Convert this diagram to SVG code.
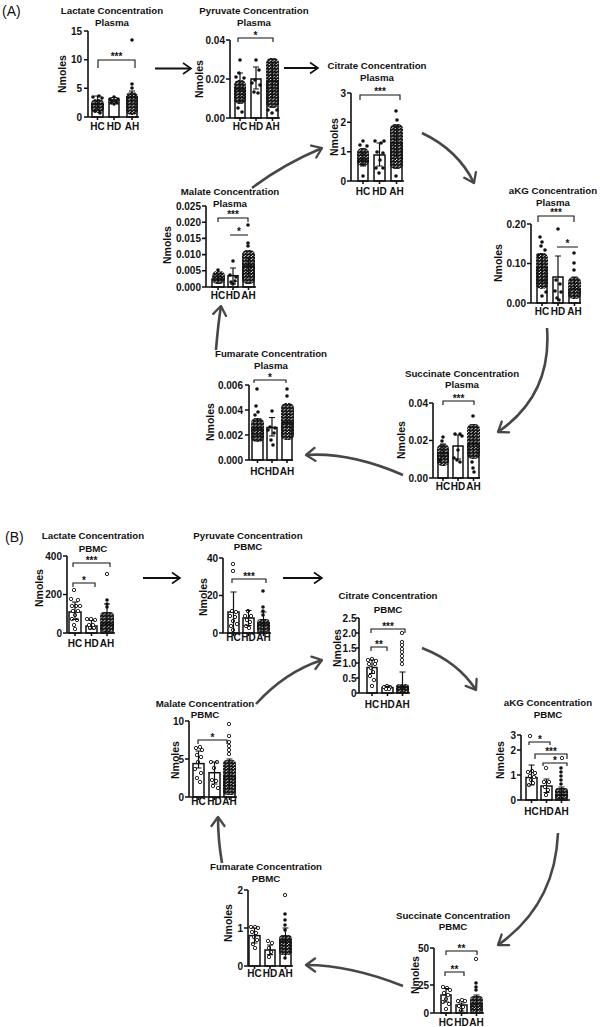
<svg xmlns="http://www.w3.org/2000/svg" width="600" height="1027" viewBox="0 0 600 1027">
<style>
text{font-family:"Liberation Sans",Arial,sans-serif;font-weight:bold;fill:#111}
.t{font-size:9.7px;text-anchor:middle}
.k{font-size:10px;text-anchor:end}
.x{font-size:10px;text-anchor:middle}
.y{font-size:10.5px;text-anchor:middle}
.s{font-size:10px;text-anchor:middle}
.pl{font-size:14px;font-weight:normal}
.ax{stroke:#111;stroke-width:1.6;fill:none}
.bar{fill:#fff;stroke:#111;stroke-width:1.5}
.cl{fill:url(#dp)}
.eb{stroke:#111;stroke-width:1.2;fill:none}
.br{stroke:#111;stroke-width:1.1;fill:none}
.sa{stroke:#111;stroke-width:1.8;fill:none}
.ca{stroke:#474747;stroke-width:2.6;fill:none}
</style>
<defs>
<pattern id="dp" patternUnits="userSpaceOnUse" width="3.6" height="3.2">
<circle cx="0.9" cy="0.8" r="1.6" fill="#111"/>
<circle cx="2.7" cy="2.4" r="1.6" fill="#111"/>
</pattern>
<circle id="f" r="1.8" fill="#111"/>
<circle id="o" r="1.7" fill="#fff" stroke="#111" stroke-width="0.9"/>
<marker id="ms" markerUnits="userSpaceOnUse" markerWidth="12" markerHeight="14" refX="9" refY="7" orient="auto">
<path d="M1,1.5 L9,7 L1,12.5" fill="none" stroke="#111" stroke-width="1.6"/>
</marker>
<marker id="mc" markerUnits="userSpaceOnUse" markerWidth="14" markerHeight="16" refX="11" refY="8" orient="auto">
<path d="M2,1.5 L11,8 L2,14.5" fill="none" stroke="#474747" stroke-width="2.3" stroke-linecap="round" stroke-linejoin="round"/>
</marker>
</defs>
<rect width="600" height="1027" fill="#fff"/>

<text class="pl" x="2" y="16">(A)</text>
<text class="pl" x="5" y="542">(B)</text>

<g id="connectors">
<path class="sa" d="M155,68.5H191" marker-end="url(#ms)"/>
<path class="sa" d="M284,68H318" marker-end="url(#ms)"/>
<path class="ca" d="M252,188Q282,165 322,148" marker-end="url(#mc)"/>
<path class="ca" d="M422,133Q458,150 474,183" marker-end="url(#mc)"/>
<path class="ca" d="M547,328Q552,395 498,432" marker-end="url(#mc)"/>
<path class="ca" d="M403,475Q350,452 306,455" marker-end="url(#mc)"/>
<path class="ca" d="M216,350Q218,325 221,306" marker-end="url(#mc)"/>
<path class="sa" d="M143,578H180" marker-end="url(#ms)"/>
<path class="sa" d="M283,578H322" marker-end="url(#ms)"/>
<path class="ca" d="M256,704Q285,672 322,660" marker-end="url(#mc)"/>
<path class="ca" d="M422,648Q458,662 476,690" marker-end="url(#mc)"/>
<path class="ca" d="M558,833Q555,905 498,945" marker-end="url(#mc)"/>
<path class="ca" d="M403,986Q350,965 306,965" marker-end="url(#mc)"/>
<path class="ca" d="M222,863Q218,840 218,817" marker-end="url(#mc)"/>
</g>

<!-- A1 Lactate Plasma -->
<g id="lactate-plasma">
<text class="t" x="112" y="14">Lactate Concentration</text>
<text class="t" x="112" y="26">Plasma</text>
<text class="y" transform="translate(66,74) rotate(-90)">Nmoles</text>
<text class="k" x="82" y="34.5">15</text><text class="k" x="82" y="63.2">10</text><text class="k" x="82" y="91.8">5</text><text class="k" x="82" y="120.5">0</text>
<rect class="bar" x="92" y="104" width="11" height="13"/>
<rect class="bar" x="109" y="100" width="10" height="17"/>
<rect class="bar" x="127" y="97" width="10" height="20"/>
<rect class="cl" x="91" y="99" width="13" height="14" rx="5"/>
<rect class="cl" x="126" y="92" width="12" height="23" rx="5"/>
<use href="#f" x="93" y="97"/><use href="#f" x="99" y="96"/><use href="#f" x="102" y="98"/><use href="#f" x="95" y="111"/><use href="#f" x="100" y="113"/>
<use href="#f" x="110" y="99"/><use href="#f" x="114" y="97"/><use href="#f" x="118" y="99"/><use href="#f" x="111" y="103"/><use href="#f" x="117" y="103"/><use href="#f" x="114" y="104"/><use href="#f" x="112" y="101"/><use href="#f" x="116" y="101"/>
<use href="#f" x="132" y="84"/><use href="#f" x="132" y="88"/><use href="#f" x="132" y="40"/>
<path class="eb" d="M97.5,110V96M94.5,110h6M94.5,96h6M114,102V97.5M111,102h6M111,97.5h6M132,103V91M129,91h6"/>
<path class="ax" d="M88,31V117H139M84,31H88M84,59.7H88M84,88.3H88M84,117H88M97.5,117v3M114,117v3M132,117v3"/>
<path class="br" d="M98,68V60H135V68"/>
<text class="s" x="116.5" y="60">***</text>
<text class="x" x="97.5" y="130">HC</text><text class="x" x="114" y="130">HD</text><text class="x" x="132" y="130">AH</text>
</g>

<!-- A2 Pyruvate Plasma -->
<g id="pyruvate-plasma">
<text class="t" x="254" y="14">Pyruvate Concentration</text>
<text class="t" x="254" y="26">Plasma</text>
<text class="y" transform="translate(203,79) rotate(-90)">Nmoles</text>
<text class="k" x="225" y="43.5">0.04</text><text class="k" x="225" y="82.5">0.02</text><text class="k" x="225" y="121.5">0.00</text>
<rect class="bar" x="235" y="89" width="10" height="29"/>
<rect class="bar" x="251" y="79" width="10" height="39"/>
<rect class="bar" x="267" y="81" width="11" height="37"/>
<rect class="cl" x="234" y="80" width="12" height="24" rx="5"/>
<rect class="cl" x="266" y="58" width="13" height="50" rx="5"/>
<use href="#f" x="240" y="60"/><use href="#f" x="239" y="73"/><use href="#f" x="236" y="77"/><use href="#f" x="244" y="78"/><use href="#f" x="238" y="108"/><use href="#f" x="242" y="112"/>
<use href="#f" x="256" y="60"/><use href="#f" x="252" y="83"/><use href="#f" x="260" y="85"/><use href="#f" x="254" y="92"/><use href="#f" x="258" y="93"/><use href="#f" x="255" y="80"/><use href="#f" x="259" y="70"/>
<use href="#f" x="272" y="113"/><use href="#f" x="268" y="110"/><use href="#f" x="277" y="110"/>
<path class="eb" d="M240,102V73M237,102h6M237,73h6M256,89V67M253,89h6M253,67h6M272.5,98V63M269.5,63h6"/>
<path class="ax" d="M230,40V118H280M226,40H230M226,79H230M226,118H230M240,118v3M256,118v3M272.5,118v3"/>
<path class="br" d="M238,42V38H273V42"/>
<text class="s" x="255.5" y="38.5">*</text>
<text class="x" x="240" y="130">HC</text><text class="x" x="256" y="130">HD</text><text class="x" x="272.5" y="130">AH</text>
</g>

<!-- A3 Citrate Plasma -->
<g id="citrate-plasma">
<text class="t" x="377" y="69">Citrate Concentration</text>
<text class="t" x="377" y="80.5">Plasma</text>
<text class="y" transform="translate(338,137) rotate(-90)">Nmoles</text>
<text class="k" x="346" y="96.5">3</text><text class="k" x="346" y="125.8">2</text><text class="k" x="346" y="155.2">1</text><text class="k" x="346" y="184.5">0</text>
<rect class="bar" x="358" y="160" width="10" height="21"/>
<rect class="bar" x="374" y="155" width="11" height="26"/>
<rect class="bar" x="391" y="143" width="11" height="38"/>
<rect class="cl" x="357" y="148" width="12" height="18" rx="5"/>
<rect class="cl" x="390" y="124" width="13" height="45" rx="5"/>
<use href="#f" x="363" y="141"/><use href="#f" x="360" y="145"/><use href="#f" x="367" y="146"/><use href="#f" x="363" y="176"/>
<use href="#f" x="375" y="141"/><use href="#f" x="381" y="143"/><use href="#f" x="384" y="141"/><use href="#f" x="377" y="152"/><use href="#f" x="383" y="153"/><use href="#f" x="380" y="160"/><use href="#f" x="376" y="168"/><use href="#f" x="383" y="168"/><use href="#f" x="379" y="173"/>
<use href="#f" x="396" y="111"/><use href="#f" x="397" y="120"/><use href="#f" x="396" y="176"/>
<path class="eb" d="M363,166V153M360,166h6M360,153h6M379.5,166V143M376.5,166h6M376.5,143h6M396.5,157V125M393.5,125h6"/>
<path class="ax" d="M351,93V181H404M347,93H351M347,122.3H351M347,151.7H351M347,181H351M363,181v3M379.5,181v3M396.5,181v3"/>
<path class="br" d="M360,100V95H400V100"/>
<text class="s" x="380" y="95">***</text>
<text class="x" x="363" y="195">HC</text><text class="x" x="379.5" y="195">HD</text><text class="x" x="396.5" y="195">AH</text>
</g>

<!-- A4 aKG Plasma -->
<g id="akg-plasma">
<text class="t" x="553" y="194">aKG Concentration</text>
<text class="t" x="553" y="205.5">Plasma</text>
<text class="y" transform="translate(502,263) rotate(-90)">Nmoles</text>
<text class="k" x="526" y="227.5">0.20</text><text class="k" x="526" y="267">0.10</text><text class="k" x="526" y="306.5">0.00</text>
<rect class="bar" x="537" y="267.5" width="10" height="35.5"/>
<rect class="bar" x="553" y="277" width="10" height="26"/>
<rect class="bar" x="569" y="289" width="11" height="14"/>
<rect class="cl" x="536" y="253" width="12" height="36" rx="5"/>
<rect class="cl" x="568" y="277" width="13" height="22" rx="5"/>
<use href="#f" x="541" y="246"/><use href="#f" x="542" y="242"/><use href="#f" x="540" y="237"/><use href="#f" x="545" y="250"/><use href="#f" x="538" y="255"/><use href="#f" x="546" y="292"/><use href="#f" x="542" y="296"/>
<use href="#f" x="558" y="229"/><use href="#f" x="556" y="280"/><use href="#f" x="560" y="284"/><use href="#f" x="555" y="291"/><use href="#f" x="561" y="292"/><use href="#f" x="557" y="298"/><use href="#f" x="559" y="300"/>
<use href="#f" x="574" y="253"/><use href="#f" x="574" y="263"/><use href="#f" x="574" y="270"/>
<path class="eb" d="M542,281V254M539,281h6M539,254h6M558,301V256M555,256h6M574.5,299V277M571.5,277h6"/>
<path class="ax" d="M531,224V303H581M527,224H531M527,263.5H531M527,303H531M542,303v3M558,303v3M574.5,303v3"/>
<path class="br" d="M538,222V216H574V222M557,247H578"/>
<text class="s" x="556" y="216">***</text>
<text class="s" x="567.5" y="247">*</text>
<text class="x" x="542" y="315">HC</text><text class="x" x="558" y="315">HD</text><text class="x" x="574.5" y="315">AH</text>
</g>

<!-- A5 Succinate Plasma -->
<g id="succinate-plasma">
<text class="t" x="462" y="376.5">Succinate Concentration</text>
<text class="t" x="462" y="388">Plasma</text>
<text class="y" transform="translate(405,440) rotate(-90)">Nmoles</text>
<text class="k" x="428" y="406.5">0.04</text><text class="k" x="428" y="444">0.02</text><text class="k" x="428" y="481.5">0.00</text>
<rect class="bar" x="438" y="453" width="10" height="25"/>
<rect class="bar" x="453" y="446" width="10" height="32"/>
<rect class="bar" x="468" y="444" width="11" height="34"/>
<rect class="cl" x="437" y="444" width="12" height="22" rx="5"/>
<rect class="cl" x="467" y="424" width="13" height="35" rx="5"/>
<use href="#f" x="443" y="437"/><use href="#f" x="442" y="441"/><use href="#f" x="440" y="460"/>
<use href="#f" x="455" y="434"/><use href="#f" x="460" y="434"/><use href="#f" x="462" y="436"/><use href="#f" x="458" y="450"/><use href="#f" x="454" y="458"/><use href="#f" x="460" y="462"/><use href="#f" x="457" y="460"/>
<use href="#f" x="473" y="416"/><use href="#f" x="472" y="462"/><use href="#f" x="473" y="468"/><use href="#f" x="474" y="472"/>
<path class="eb" d="M443,457V444M440,457h6M440,444h6M458,459V435M455,459h6M455,435h6M473.5,455.5V427M470.5,427h6"/>
<path class="ax" d="M433,403V478H480M429,403H433M429,440.5H433M429,478H433M443,478v3M458,478v3M473.5,478v3"/>
<path class="br" d="M443,405V401H474V405"/>
<text class="s" x="458.5" y="401.5">***</text>
<text class="x" x="443" y="490">HC</text><text class="x" x="458" y="490">HD</text><text class="x" x="473.5" y="490">AH</text>
</g>

<!-- A6 Fumarate Plasma -->
<g id="fumarate-plasma">
<text class="t" x="271" y="357">Fumarate Concentration</text>
<text class="t" x="271" y="368.5">Plasma</text>
<text class="y" transform="translate(214,422) rotate(-90)">Nmoles</text>
<text class="k" x="243" y="388.5">0.006</text><text class="k" x="243" y="413.5">0.004</text><text class="k" x="243" y="438.5">0.002</text><text class="k" x="243" y="463.5">0.000</text>
<rect class="bar" x="252" y="429" width="11" height="31"/>
<rect class="bar" x="267" y="427.5" width="10" height="32.5"/>
<rect class="bar" x="282" y="422.5" width="10" height="37.5"/>
<rect class="cl" x="251" y="418" width="13" height="24" rx="5"/>
<rect class="cl" x="281" y="403" width="13" height="37" rx="5"/>
<use href="#f" x="257" y="389"/><use href="#f" x="256" y="406"/><use href="#f" x="258" y="412"/><use href="#f" x="255" y="415"/>
<use href="#f" x="272" y="411"/><use href="#f" x="270" y="427"/><use href="#f" x="275" y="428"/><use href="#f" x="268" y="430"/><use href="#f" x="274" y="433"/><use href="#f" x="271" y="440"/><use href="#f" x="273" y="445"/>
<use href="#f" x="287" y="389"/><use href="#f" x="287" y="396"/>
<path class="eb" d="M257.5,435V419M254.5,435h6M254.5,419h6M272,436V417.5M269,436h6M269,417.5h6M287,427.5V414M284,414h6"/>
<path class="ax" d="M249,385V460H293M245,385H249M245,410H249M245,435H249M245,460H249M257.5,460v3M272,460v3M287,460v3"/>
<path class="br" d="M254,383V380H286V383"/>
<text class="s" x="270" y="380.5">*</text>
<text class="x" x="257.5" y="474.5">HC</text><text class="x" x="272" y="474.5">HD</text><text class="x" x="287" y="474.5">AH</text>
</g>

<!-- A7 Malate Plasma -->
<g id="malate-plasma">
<text class="t" x="230" y="195">Malate Concentration</text>
<text class="t" x="230" y="207">Plasma</text>
<text class="y" transform="translate(171,245) rotate(-90)">Nmoles</text>
<text class="k" x="201" y="209.5">0.025</text><text class="k" x="201" y="225.7">0.020</text><text class="k" x="201" y="241.9">0.015</text><text class="k" x="201" y="258.1">0.010</text><text class="k" x="201" y="274.3">0.005</text><text class="k" x="201" y="290.5">0.000</text>
<rect class="bar" x="212" y="279" width="12" height="8"/>
<rect class="bar" x="228" y="275.7" width="10" height="11.3"/>
<rect class="bar" x="243" y="266" width="11" height="21"/>
<rect class="cl" x="212" y="271" width="13" height="13" rx="5"/>
<rect class="cl" x="242" y="250" width="13" height="34" rx="5"/>
<use href="#f" x="218" y="270"/>
<use href="#f" x="233" y="261"/><use href="#f" x="230" y="275"/><use href="#f" x="236" y="277"/><use href="#f" x="231" y="282"/><use href="#f" x="235" y="281"/><use href="#f" x="233" y="284"/>
<use href="#f" x="248" y="225"/><use href="#f" x="248" y="243"/><use href="#f" x="248" y="246"/>
<path class="eb" d="M218,282V275M215,275h6M233,284V268M230,284h6M230,268h6M248.5,276V258M245.5,258h6"/>
<path class="ax" d="M206,206V287H256M202,206H206M202,222.2H206M202,238.4H206M202,254.6H206M202,270.8H206M202,287H206M218,287v3M233,287v3M248.5,287v3"/>
<path class="br" d="M218,222V218H248V222M230,235H248"/>
<text class="s" x="233" y="218">***</text>
<text class="s" x="239" y="235">*</text>
<text class="x" x="218" y="298.5">HC</text><text class="x" x="233" y="298.5">HD</text><text class="x" x="248.5" y="298.5">AH</text>
</g>

<!-- B1 Lactate PBMC -->
<g id="lactate-pbmc">
<text class="t" x="93" y="538.5">Lactate Concentration</text>
<text class="t" x="93" y="551.8">PBMC</text>
<text class="y" transform="translate(43,588) rotate(-90)">Nmoles</text>
<text class="k" x="62" y="559.5">400</text><text class="k" x="62" y="598">200</text><text class="k" x="62" y="636.5">0</text>
<rect class="bar" x="69" y="612" width="12" height="21"/>
<rect class="bar" x="86" y="626" width="11" height="7"/>
<rect class="bar" x="101" y="624" width="12" height="9"/>
<rect class="cl" x="100" y="612" width="14" height="20" rx="4"/>
<use href="#o" x="74" y="590"/><use href="#o" x="71" y="599"/><use href="#o" x="78" y="600"/><use href="#o" x="72" y="606"/><use href="#o" x="76" y="606"/><use href="#o" x="80" y="606"/><use href="#o" x="73" y="611"/><use href="#o" x="78" y="611"/><use href="#o" x="75" y="615"/><use href="#o" x="72" y="619"/><use href="#o" x="77" y="620"/><use href="#o" x="74" y="625"/><use href="#o" x="75" y="629"/>
<use href="#o" x="87" y="619"/><use href="#o" x="91" y="619"/><use href="#o" x="95" y="620"/><use href="#o" x="89" y="625"/><use href="#o" x="93" y="625"/><use href="#o" x="90" y="628"/><use href="#o" x="94" y="628"/>
<use href="#o" x="107" y="574"/><use href="#f" x="107" y="600"/><use href="#f" x="107" y="604"/><use href="#f" x="107" y="607"/>
<path class="eb" d="M75,619.5V602M72,619.5h6M72,602h6M91.5,629V620.5M88.5,629h6M88.5,620.5h6M107,633V604M104,604h6"/>
<path class="ax" d="M67,556V633H115M63,556H67M63,594.5H67M63,633H67M75,633v3M91.5,633v3M107,633v3"/>
<path class="br" d="M73,567V563H110V567M73,587V583H95V587"/>
<text class="s" x="91.5" y="563.5">***</text>
<text class="s" x="84" y="583.5">*</text>
<text class="x" x="75" y="646.8">HC</text><text class="x" x="91.5" y="646.8">HD</text><text class="x" x="107" y="646.8">AH</text>
</g>

<!-- B2 Pyruvate PBMC -->
<g id="pyruvate-pbmc">
<text class="t" x="248" y="538.5">Pyruvate Concentration</text>
<text class="t" x="248" y="549.5">PBMC</text>
<text class="y" transform="translate(207,597) rotate(-90)">Nmoles</text>
<text class="k" x="218" y="561.5">40</text><text class="k" x="218" y="599">20</text><text class="k" x="218" y="636.5">0</text>
<rect class="bar" x="228" y="612" width="11" height="21"/>
<rect class="bar" x="243" y="618" width="11" height="15"/>
<rect class="bar" x="258" y="624" width="11" height="9"/>
<rect class="cl" x="257" y="619" width="13" height="13" rx="4"/>
<use href="#o" x="233" y="564"/><use href="#o" x="233" y="571"/><use href="#o" x="232" y="611"/><use href="#o" x="236" y="612"/><use href="#o" x="230" y="616"/><use href="#o" x="235" y="617"/><use href="#o" x="233" y="621"/><use href="#o" x="237" y="624"/><use href="#o" x="231" y="626"/><use href="#o" x="233" y="630"/>
<use href="#o" x="248" y="611"/><use href="#o" x="245" y="616"/><use href="#o" x="251" y="616"/><use href="#o" x="247" y="620"/><use href="#o" x="250" y="622"/><use href="#o" x="246" y="626"/><use href="#o" x="249" y="628"/>
<use href="#f" x="263" y="591"/><use href="#f" x="263" y="607"/><use href="#f" x="263" y="611"/><use href="#f" x="263" y="615"/>
<path class="eb" d="M233.5,633V592M230.5,592h6M248.5,625.5V610.5M245.5,625.5h6M245.5,610.5h6M263.5,633V612M260.5,612h6"/>
<path class="ax" d="M223,558V633H271M219,558H223M219,595.5H223M219,633H223M233.5,633v3M248.5,633v3M263.5,633v3"/>
<path class="br" d="M232,583V579H266V583"/>
<text class="s" x="249" y="579.5">***</text>
<text class="x" x="233.5" y="640.8">HC</text><text class="x" x="248.5" y="640.8">HD</text><text class="x" x="263.5" y="640.8">AH</text>
</g>

<!-- B3 Citrate PBMC -->
<g id="citrate-pbmc">
<text class="t" x="388" y="599">Citrate Concentration</text>
<text class="t" x="388" y="612.5">PBMC</text>
<text class="y" transform="translate(341,648) rotate(-90)">Nmoles</text>
<text class="k" x="356.5" y="621.5">2.5</text><text class="k" x="356.5" y="636.5">2.0</text><text class="k" x="356.5" y="651.5">1.5</text><text class="k" x="356.5" y="666.5">1.0</text><text class="k" x="356.5" y="681.5">0.5</text><text class="k" x="356.5" y="696.5">0</text>
<rect class="bar" x="367" y="667.5" width="10" height="25.5"/>
<rect class="bar" x="382" y="687.6" width="11" height="5.4"/>
<rect class="bar" x="397" y="687.6" width="11" height="5.4"/>
<rect class="cl" x="396" y="684" width="13" height="9" rx="3"/>
<use href="#o" x="368" y="660"/><use href="#o" x="372" y="659"/><use href="#o" x="376" y="661"/><use href="#o" x="369" y="664"/><use href="#o" x="375" y="664"/><use href="#o" x="371" y="668"/><use href="#o" x="373" y="672"/><use href="#o" x="370" y="676"/><use href="#o" x="374" y="680"/><use href="#o" x="372" y="686"/>
<use href="#o" x="384" y="687"/><use href="#o" x="387" y="686"/><use href="#o" x="390" y="687"/><use href="#o" x="386" y="689"/><use href="#o" x="389" y="689"/>
<use href="#o" x="402" y="633"/><use href="#o" x="402" y="642"/><use href="#o" x="402" y="645"/><use href="#o" x="402" y="649"/><use href="#o" x="402" y="652"/><use href="#o" x="402" y="656"/><use href="#o" x="402" y="660"/><use href="#o" x="402" y="664"/>
<path class="eb" d="M372,673.5V660M369,673.5h6M369,660h6M387.5,688.5V686.4M384.5,686.4h6M402.5,693V672M399.5,672h6"/>
<path class="ax" d="M359,618V693H410M356,618H359M356,633H359M356,648H359M356,663H359M356,678H359M356,693H359M372,693v3M387.5,693v3M402.5,693v3"/>
<path class="br" d="M371,633V629H405V633M371,651V647H387V651"/>
<text class="s" x="388" y="629.5">***</text>
<text class="s" x="379" y="647.5">**</text>
<text class="x" x="372" y="707.5">HC</text><text class="x" x="387.5" y="707.5">HD</text><text class="x" x="402.5" y="707.5">AH</text>
</g>

<!-- B4 aKG PBMC -->
<g id="akg-pbmc">
<text class="t" x="548" y="706">aKG Concentration</text>
<text class="t" x="548" y="718">PBMC</text>
<text class="y" transform="translate(504,760) rotate(-90)">Nmoles</text>
<text class="k" x="516" y="738.5">3</text><text class="k" x="516" y="753.5">2</text><text class="k" x="516" y="778.5">1</text><text class="k" x="516" y="803.5">0</text>
<rect class="bar" x="526" y="777.5" width="11" height="22.5"/>
<rect class="bar" x="541" y="786" width="11" height="14"/>
<rect class="bar" x="556" y="795" width="11" height="5"/>
<rect class="cl" x="555" y="788" width="13" height="11" rx="3"/>
<use href="#o" x="528" y="772"/><use href="#o" x="532" y="771"/><use href="#o" x="535" y="773"/><use href="#o" x="530" y="776"/><use href="#o" x="534" y="777"/><use href="#o" x="531" y="780"/><use href="#o" x="533" y="783"/><use href="#o" x="529" y="785"/>
<use href="#o" x="546" y="768"/><use href="#o" x="544" y="782"/><use href="#o" x="549" y="782"/><use href="#o" x="545" y="787"/><use href="#o" x="548" y="790"/><use href="#o" x="546" y="795"/>
<use href="#f" x="561" y="768"/><use href="#f" x="561" y="772"/><use href="#f" x="561" y="776"/><use href="#f" x="561" y="780"/><use href="#f" x="561" y="784"/>
<use href="#o" x="530" y="736"/><use href="#o" x="562" y="758"/>
<path class="eb" d="M531.5,785V765M528.5,785h6M528.5,765h6M546.5,792.5V779M543.5,792.5h6M543.5,779h6M561.5,800V787M558.5,787h6"/>
<path class="ax" d="M521,735V800H570M517,735H521M517,750H521M517,775H521M517,800H521M531.5,800v3M546.5,800v3M561.5,800v3"/>
<path class="br" d="M529,745V742H550V745M535,759V754H567V759M543,766V763H567V766"/>
<text class="s" x="540" y="742.5">*</text>
<text class="s" x="551" y="754.5">***</text>
<text class="s" x="555" y="763.5">*</text>
<text class="x" x="531.5" y="815">HC</text><text class="x" x="546.5" y="815">HD</text><text class="x" x="561.5" y="815">AH</text>
</g>

<!-- B5 Succinate PBMC -->
<g id="succinate-pbmc">
<text class="t" x="453" y="918.5">Succinate Concentration</text>
<text class="t" x="453" y="930">PBMC</text>
<text class="y" transform="translate(419,975) rotate(-90)">Nmoles</text>
<text class="k" x="429" y="951.5">50</text><text class="k" x="429" y="988.5">25</text><text class="k" x="429" y="1016.5">0</text>
<rect class="bar" x="441" y="995" width="10" height="18"/>
<rect class="bar" x="456" y="1005" width="11" height="8"/>
<rect class="bar" x="471" y="1004" width="11" height="9"/>
<rect class="cl" x="470" y="996" width="13" height="16" rx="4"/>
<use href="#o" x="443" y="987"/><use href="#o" x="447" y="988"/><use href="#o" x="450" y="990"/><use href="#o" x="444" y="993"/><use href="#o" x="448" y="995"/><use href="#o" x="446" y="999"/><use href="#o" x="443" y="1002"/><use href="#o" x="449" y="1004"/><use href="#o" x="446" y="1009"/>
<use href="#o" x="458" y="1001"/><use href="#o" x="462" y="1000"/><use href="#o" x="465" y="1001"/><use href="#o" x="459" y="1006"/><use href="#o" x="463" y="1007"/><use href="#o" x="461" y="1010"/>
<use href="#o" x="476" y="959"/><use href="#f" x="476" y="983"/><use href="#f" x="476" y="987"/><use href="#f" x="476" y="990"/>
<path class="eb" d="M446,1002V988.5M443,1002h6M443,988.5h6M461.5,1011V1003M458.5,1011h6M458.5,1003h6M476.5,1013V995M473.5,995h6"/>
<path class="ax" d="M434,948V1013H484M430,948H434M430,985H434M430,1013H434M446,1013v3M461.5,1013v3M476.5,1013v3"/>
<path class="br" d="M446,955V951H477V955M445,976V972H464V976"/>
<text class="s" x="461.5" y="951.5">**</text>
<text class="s" x="454.5" y="972.5">**</text>
<text class="x" x="446" y="1026">HC</text><text class="x" x="461.5" y="1026">HD</text><text class="x" x="476.5" y="1026">AH</text>
</g>

<!-- B6 Fumarate PBMC -->
<g id="fumarate-pbmc">
<text class="t" x="266" y="870">Fumarate Concentration</text>
<text class="t" x="266" y="882">PBMC</text>
<text class="y" transform="translate(232,923) rotate(-90)">Nmoles</text>
<text class="k" x="243" y="893.5">2</text><text class="k" x="243" y="931.5">1</text><text class="k" x="243" y="969.5">0</text>
<rect class="bar" x="249" y="935.6" width="11" height="30.4"/>
<rect class="bar" x="265" y="950" width="10" height="16"/>
<rect class="bar" x="280" y="941" width="11" height="25"/>
<rect class="cl" x="279" y="935" width="13" height="20" rx="4"/>
<use href="#o" x="251" y="927"/><use href="#o" x="255" y="927"/><use href="#o" x="258" y="928"/><use href="#o" x="252" y="932"/><use href="#o" x="256" y="933"/><use href="#o" x="254" y="937"/><use href="#o" x="257" y="940"/><use href="#o" x="253" y="944"/><use href="#o" x="255" y="948"/>
<use href="#o" x="268" y="941"/><use href="#o" x="272" y="943"/><use href="#o" x="269" y="948"/><use href="#o" x="271" y="952"/><use href="#o" x="269" y="957"/>
<use href="#o" x="285" y="895"/><use href="#f" x="285" y="914"/><use href="#f" x="285" y="920"/><use href="#f" x="285" y="925"/><use href="#f" x="285" y="930"/><use href="#f" x="285" y="958"/>
<path class="eb" d="M254.5,943V928M251.5,943h6M251.5,928h6M270,954.6V945M267,954.6h6M267,945h6M285.5,956.5V928M282.5,928h6"/>
<path class="ax" d="M248,890V966H293M244,890H248M244,928H248M244,966H248M254.5,966v3M270,966v3M285.5,966v3"/>
<text class="x" x="254.5" y="976.8">HC</text><text class="x" x="270" y="976.8">HD</text><text class="x" x="285.5" y="976.8">AH</text>
</g>

<!-- B7 Malate PBMC -->
<g id="malate-pbmc">
<text class="t" x="205" y="706.8">Malate Concentration</text>
<text class="t" x="205" y="717.5">PBMC</text>
<text class="y" transform="translate(179,760) rotate(-90)">Nmoles</text>
<text class="k" x="184" y="724.5">10</text><text class="k" x="184" y="762.5">5</text><text class="k" x="184" y="800.5">0</text>
<rect class="bar" x="193" y="763.6" width="11" height="33.4"/>
<rect class="bar" x="209" y="772.7" width="11" height="24.3"/>
<rect class="bar" x="224" y="776.5" width="11" height="20.5"/>
<rect class="cl" x="223" y="760" width="13" height="35" rx="4"/>
<use href="#o" x="196" y="748"/><use href="#o" x="200" y="747"/><use href="#o" x="202" y="750"/><use href="#o" x="197" y="755"/><use href="#o" x="201" y="757"/><use href="#o" x="198" y="762"/><use href="#o" x="195" y="769"/><use href="#o" x="201" y="773"/><use href="#o" x="197" y="778"/><use href="#o" x="200" y="782"/>
<use href="#o" x="211" y="762"/><use href="#o" x="217" y="762"/><use href="#o" x="214" y="768"/><use href="#o" x="212" y="780"/><use href="#o" x="216" y="781"/><use href="#o" x="213" y="786"/><use href="#o" x="218" y="788"/>
<use href="#o" x="229" y="724"/><use href="#o" x="229" y="736"/><use href="#o" x="229" y="742"/><use href="#o" x="229" y="746"/><use href="#o" x="229" y="750"/><use href="#o" x="229" y="754"/>
<path class="eb" d="M198.5,768V751M195.5,768h6M195.5,751h6M214.5,784V762M211.5,784h6M211.5,762h6M229.5,789V759M226.5,759h6"/>
<path class="ax" d="M189,721V797H237M185,721H189M185,759H189M185,797H189M198.5,797v3M214.5,797v3M229.5,797v3"/>
<path class="br" d="M198,744V740H227V744"/>
<text class="s" x="212.5" y="740.5">*</text>
<text class="x" x="198.5" y="805">HC</text><text class="x" x="214.5" y="805">HD</text><text class="x" x="229.5" y="805">AH</text>
</g>
</svg>
